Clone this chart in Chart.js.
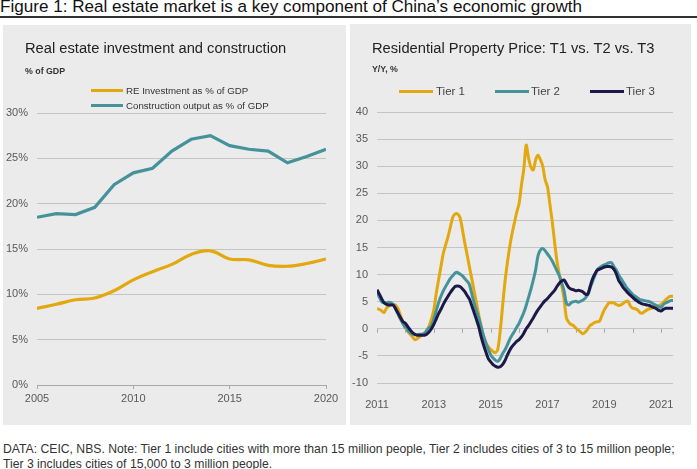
<!DOCTYPE html>
<html>
<head>
<meta charset="utf-8">
<script src="https://cdn.jsdelivr.net/npm/chart.js@4/dist/chart.umd.min.js"></script>
<style>
  body { margin: 0; width: 697px; height: 469px; background: #fff; position: relative; overflow: hidden;
         font-family: 'Liberation Sans', Arial, sans-serif; color: #222; }
  .abs { position: absolute; white-space: nowrap; line-height: 1; }
  .panel { position: absolute; background: #ebebeb; }
  .key { position: absolute; height: 3px; }
</style>
</head>
<body>
<div class="abs" style="left:0;top:-2px;font-size:17.1px;color:#111;">Figure 1: Real estate market is a key component of China’s economic growth</div>
<div style="position:absolute;left:0;top:16px;width:697px;height:1.5px;background:#333;"></div>

<div class="panel" style="left:3px;top:25px;width:343px;height:400px;"></div>
<div class="panel" style="left:350px;top:24px;width:341px;height:401px;"></div>

<canvas id="left" width="343" height="400" style="position:absolute;left:3px;top:25px;"></canvas>
<canvas id="right" width="341" height="401" style="position:absolute;left:350px;top:24px;"></canvas>

<div class="abs" style="left:25px;top:41px;font-size:14.7px;">Real estate investment and construction</div>
<div class="abs" style="left:25px;top:66.5px;font-size:8.8px;font-weight:bold;color:#333;">% of GDP</div>
<div class="key" style="left:91px;top:88.5px;width:32px;background:#e2a80e;"></div>
<div class="abs" style="left:126px;top:85.5px;font-size:9.7px;color:#333;">RE Investment as % of GDP</div>
<div class="key" style="left:91px;top:103.5px;width:32px;background:#44939b;"></div>
<div class="abs" style="left:126px;top:100.5px;font-size:9.7px;color:#333;">Construction output as % of GDP</div>

<div class="abs" style="left:372px;top:40.5px;font-size:14.7px;">Residential Property Price: T1 vs. T2 vs. T3</div>
<div class="abs" style="left:372px;top:65px;font-size:8.8px;font-weight:bold;color:#333;">Y/Y, %</div>
<div class="key" style="left:399px;top:90px;width:34px;background:#e2a80e;"></div>
<div class="abs" style="left:436px;top:86px;font-size:11.5px;color:#444;">Tier 1</div>
<div class="key" style="left:495px;top:90px;width:34px;background:#44939b;"></div>
<div class="abs" style="left:531px;top:86px;font-size:11.5px;color:#444;">Tier 2</div>
<div class="key" style="left:590px;top:90px;width:34px;background:#1c1848;"></div>
<div class="abs" style="left:626px;top:86px;font-size:11.5px;color:#444;">Tier 3</div>

<div class="abs" style="left:3px;top:442.5px;font-size:12.2px;color:#333;">DATA: CEIC, NBS. Note: Tier 1 include cities with more than 15 million people, Tier 2 includes cities of 3 to 15 million people;</div>
<div class="abs" style="left:3px;top:457.5px;font-size:12.2px;color:#333;">Tier 3 includes cities of 15,000 to 3 million people.</div>

<script>
// left panel: yearly, % of GDP
const years = [2005, 2006, 2007, 2008, 2009, 2010, 2011, 2012, 2013, 2014, 2015, 2016, 2017, 2018, 2019, 2020];
const reInvestment = [8.45, 8.9, 9.4, 9.6, 10.4, 11.6, 12.5, 13.3, 14.4, 14.8, 13.9, 13.8, 13.2, 13.1, 13.4, 13.9];
const constructionOutput = [18.5, 18.9, 18.8, 19.6, 22.1, 23.4, 23.9, 25.8, 27.1, 27.5, 26.4, 26.0, 25.8, 24.5, 25.2, 26.0];

// right panel: monthly Y/Y %, Jan 2011 - Jun 2021
const startYear = 2011;
const tier1 = [
  3.7, 3.6, 3.3, 3.0, 3.8, 4.2, 4.5, 4.5, 4.3, 3.6, 2.3, 1.2,
  0.2, -0.5, -1.0, -1.5, -2.0, -1.8, -1.5, -1.2, -1.0, -0.3, 0.5, 1.8,
  3.5, 6.5, 9.0, 11.5, 13.9, 15.5, 17.0, 18.8, 20.6, 21.2, 21.2, 20.6,
  18.5, 16.0, 13.8, 11.5, 9.3, 7.0, 4.8, 2.5, 0.5, -1.4, -2.6, -3.3,
  -3.8, -4.2, -4.4, -3.8, -0.5, 4.0, 8.5, 12.0, 15.0, 17.5, 19.5, 21.5,
  23.1, 26.5, 29.5, 33.9, 31.5, 29.8, 29.3, 31.2, 32.0, 31.2, 30.0, 27.5,
  26.2, 23.0, 19.8, 16.0, 12.5, 10.0, 8.0, 5.5, 2.0, 1.2, 0.8, 0.6,
  0.1, -0.2, -0.6, -0.9, -0.6, 0.0, 0.6, 0.9, 1.2, 1.3, 1.4, 2.5,
  3.5, 4.2, 4.8, 4.8, 4.8, 4.5, 4.3, 4.4, 4.7, 5.0, 5.1, 4.2,
  3.8, 3.7, 3.5, 3.0, 2.9, 3.2, 3.5, 3.7, 3.8, 4.0, 4.1, 4.3,
  4.5, 4.9, 5.4, 5.8, 6.0, 6.0
];
const tier2 = [
  6.8, 5.8, 5.0, 4.8, 4.8, 4.9, 4.8, 4.4, 3.5, 2.6, 1.7, 0.9,
  0.2, -0.3, -0.7, -1.0, -1.1, -1.1, -1.0, -1.0, -0.8, -0.3, 0.2, 0.6,
  1.8, 3.3, 4.8, 6.0, 7.0, 7.8, 8.6, 9.3, 9.8, 10.3, 10.4, 10.1,
  9.8, 9.3, 8.8, 8.2, 6.5, 4.8, 3.3, 2.0, 0.3, -1.3, -2.6, -3.8,
  -4.8, -5.4, -5.8, -6.0, -5.5, -4.6, -3.9, -3.0, -2.0, -1.2, -0.5, 0.3,
  1.0, 2.0, 3.0, 4.3, 5.8, 7.3, 9.0, 10.9, 13.5, 14.5, 14.8, 14.4,
  13.8, 13.2, 12.5, 11.6, 10.7, 9.8, 8.5, 7.0, 4.7, 4.4, 4.8, 5.0,
  5.1, 4.9, 5.1, 5.3, 5.7, 6.3, 7.5, 8.7, 9.8, 10.9, 11.3, 11.6,
  11.8, 12.0, 12.2, 12.2, 11.5, 10.9, 10.0, 9.3, 8.6, 7.9, 7.3, 6.8,
  6.3, 6.0, 5.7, 5.4, 5.3, 5.2, 5.1, 5.0, 4.8, 4.5, 4.3, 4.1,
  4.0, 4.5, 4.8, 5.0, 5.2, 5.2
];
const tier3 = [
  7.2, 6.4, 5.5, 4.8, 4.5, 4.4, 4.4, 4.3, 3.6, 2.8, 2.0, 1.3,
  1.0, 0.4, -0.2, -0.7, -1.0, -1.2, -1.2, -1.2, -1.2, -1.0, -0.6, 0.0,
  0.8, 1.8, 2.8, 3.6, 4.5, 5.3, 6.0, 6.7, 7.3, 7.8, 7.9, 7.8,
  7.4, 6.9, 6.2, 5.5, 4.3, 3.0, 1.7, 0.3, -1.5, -3.0, -4.3, -5.5,
  -6.1, -6.6, -6.9, -7.1, -7.0, -6.6, -5.9, -4.9, -4.0, -3.3, -2.8, -2.3,
  -2.0, -1.5, -0.8, 0.0, 0.6, 1.3, 2.0, 2.8, 3.5, 4.1, 4.7, 5.2,
  5.6, 6.1, 6.6, 7.1, 7.8, 8.4, 8.8, 9.0, 8.3, 7.6, 7.3, 7.2,
  7.0, 7.1, 7.0, 6.8, 6.4, 6.4, 7.8, 9.2, 10.1, 10.8, 11.0, 11.2,
  11.4, 11.5, 11.5, 11.4, 11.0, 10.2, 9.0, 8.3, 7.6, 7.1, 6.6, 6.2,
  5.8, 5.4, 5.1, 4.8, 4.6, 4.5, 4.4, 4.3, 4.1, 3.9, 3.7, 3.4,
  3.3, 3.6, 3.8, 3.8, 3.8, 3.8
];
const months = tier1.map((_, i) => startYear + i / 12);

const YELLOW = '#e2a80e';
const TEAL = '#44939b';
const NAVY = '#1c1848';
const GRID = '#c4c4c4';
const TICK = '#595959';

Chart.defaults.font.family = "'Liberation Sans', Arial, sans-serif";
Chart.defaults.font.size = 11;
Chart.defaults.color = TICK;

const xy = (xs, ys) => xs.map((x, i) => ({ x: x, y: ys[i] }));

new Chart(document.getElementById('left'), {
  type: 'line',
  data: {
    datasets: [
      { label: 'RE Investment as % of GDP', data: xy(years, reInvestment),
        borderColor: YELLOW, borderWidth: 3.2, pointRadius: 0, tension: 0.4 },
      { label: 'Construction output as % of GDP', data: xy(years, constructionOutput),
        borderColor: TEAL, borderWidth: 3.2, pointRadius: 0, tension: 0 }
    ]
  },
  options: {
    responsive: false,
    animation: false,
    layout: { padding: { top: 88, right: 20, left: 0, bottom: 0 } },
    plugins: { legend: { display: false }, tooltip: { enabled: false } },
    scales: {
      x: {
        type: 'linear', min: 2005, max: 2020,
        afterFit: s => { s.height = 40; },
        grid: { drawOnChartArea: false, tickLength: 4, color: '#a8a8a8' },
        border: { color: '#a8a8a8' },
        ticks: { stepSize: 5, padding: 3, callback: v => String(v) }
      },
      y: {
        min: 0, max: 30,
        afterFit: s => { s.width = 34; },
        grid: { color: GRID, drawTicks: false },
        border: { display: false },
        ticks: { stepSize: 5, padding: 9, callback: v => v + '%' }
      }
    }
  }
});

// small tick marks sitting on the zero line of the right chart
const zeroTicks = {
  id: 'zeroTicks',
  afterDraw(chart) {
    const { ctx, scales: { x, y } } = chart;
    const y0 = y.getPixelForValue(0);
    ctx.save();
    ctx.strokeStyle = '#a8a8a8';
    ctx.lineWidth = 1;
    x.ticks.forEach(t => {
      const px = Math.round(x.getPixelForValue(t.value)) + 0.5;
      ctx.beginPath();
      ctx.moveTo(px, y0);
      ctx.lineTo(px, y0 + 4);
      ctx.stroke();
    });
    ctx.restore();
  }
};

new Chart(document.getElementById('right'), {
  type: 'line',
  data: {
    datasets: [
      { label: 'Tier 1', data: xy(months, tier1), borderColor: YELLOW, borderWidth: 3,
        pointRadius: 0, tension: 0.3, order: 3 },
      { label: 'Tier 2', data: xy(months, tier2), borderColor: TEAL, borderWidth: 3,
        pointRadius: 0, tension: 0.3, order: 2 },
      { label: 'Tier 3', data: xy(months, tier3), borderColor: NAVY, borderWidth: 3,
        pointRadius: 0, tension: 0.3, order: 1 }
    ]
  },
  options: {
    responsive: false,
    animation: false,
    layout: { padding: { top: 88, right: 18, left: 0, bottom: 0 } },
    plugins: { legend: { display: false }, tooltip: { enabled: false } },
    scales: {
      x: {
        type: 'linear', min: startYear, max: months[months.length - 1],
        afterFit: s => { s.height = 42; },
        afterBuildTicks: s => { s.ticks = s.ticks.filter(t => Number.isInteger(t.value)); },
        grid: { display: false },
        border: { display: false },
        ticks: { stepSize: 1, includeBounds: false, padding: 7, autoSkip: false, maxRotation: 0,
                 callback: v => (v % 2 === 1 ? String(v) : '') }
      },
      y: {
        min: -10, max: 40,
        afterFit: s => { s.width = 27; },
        grid: { color: GRID, drawTicks: false },
        border: { display: false },
        ticks: { stepSize: 5, padding: 9 }
      }
    }
  },
  plugins: [zeroTicks]
});
</script>
</body>
</html>
